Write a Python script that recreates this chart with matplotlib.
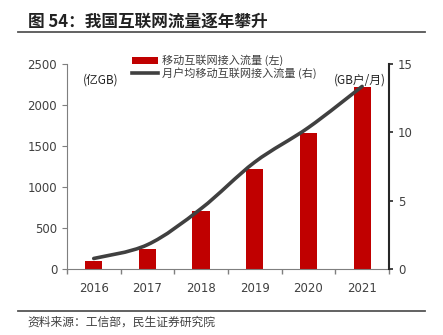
import numpy as np
import matplotlib
matplotlib.use("Agg")
import matplotlib.pyplot as plt
from matplotlib.path import Path
from matplotlib.patches import PathPatch, Patch
from matplotlib.lines import Line2D

plt.rcParams['font.family'] = ['Noto Sans CJK SC', 'DejaVu Sans']

years = ["2016", "2017", "2018", "2019", "2020", "2021"]
traffic = [93.6, 246, 711.1, 1220, 1656, 2216]          # 亿GB
dou = [0.77, 1.775, 4.42, 7.82, 10.35, 13.36]            # GB/户/月
left_ticks = [0, 500, 1000, 1500, 2000, 2500]
right_ticks = [0, 5, 10, 15]

RED = "#C00000"
GRAY = "#404040"
AX = "#7F7F7F"

fig = plt.figure(figsize=(4.43, 3.35), dpi=100)
ax = fig.add_axes([0.151, 0.197, 0.727, 0.612])
ax2 = ax.twinx()

x = np.arange(len(years))
ax.bar(x, traffic, width=0.32, color=RED, zorder=2)
ax.set_xlim(-0.5, len(years) - 0.5)
ax.set_ylim(0, 2500)
ax.set_yticks(left_ticks)
ax.set_xticks(x)
ax.set_xticklabels(years, family=['DejaVu Sans'])
ax.set_xticks(np.arange(-0.5, len(years)), minor=True)
ax.tick_params(axis='x', which='major', length=0, pad=9, labelsize=8.5, colors="#404040")
ax.tick_params(axis='x', which='minor', length=3.5, direction='out', color=AX, width=1)
ax.tick_params(axis='y', length=3.5, direction='out', labelsize=8.5, colors="#404040", color=AX)
for lbl in ax.get_yticklabels():
    lbl.set_family(['DejaVu Sans'])

ax2.set_ylim(0, 15)
ax2.set_yticks(right_ticks)
ax2.tick_params(axis='y', length=3, direction='out', labelsize=8.5, colors="#404040",
                color="#262626", width=1.2)
for lbl in ax2.get_yticklabels():
    lbl.set_family(['DejaVu Sans'])

ax.spines['top'].set_visible(False)
ax.spines['right'].set_visible(False)
ax.spines['left'].set_color(AX)
ax.spines['bottom'].set_color(AX)
ax2.spines['top'].set_visible(False)
ax2.spines['left'].set_visible(False)
ax2.spines['bottom'].set_visible(False)
ax2.spines['right'].set_color("#262626")
ax2.spines['right'].set_linewidth(1.5)

# smoothed line through the monthly-per-user values (Catmull-Rom as cubic Bezier)
pts = np.column_stack([x, dou]).astype(float)
verts = [tuple(pts[0])]
codes = [Path.MOVETO]
n = len(pts)
for i in range(n - 1):
    p0 = pts[i - 1] if i > 0 else pts[i]
    p1 = pts[i]
    p2 = pts[i + 1]
    p3 = pts[i + 2] if i + 2 < n else pts[i + 1]
    c1 = p1 + (p2 - p0) / 6.0
    c2 = p2 - (p3 - p1) / 6.0
    verts += [tuple(c1), tuple(c2), tuple(p2)]
    codes += [Path.CURVE4] * 3
ax2.add_patch(PathPatch(Path(verts, codes), facecolor='none', edgecolor=GRAY,
                        lw=2.6, capstyle='round', zorder=3))

ax.text(0.05, 0.92, "(亿GB)", transform=ax.transAxes, fontsize=8.5, color="#222222",
        ha='left', va='center')
ax2.text(0.83, 0.92, "(GB户/月)", transform=ax.transAxes, fontsize=8.5, color="#222222",
         ha='left', va='center')

handles = [Patch(facecolor=RED, edgecolor='none'),
           Line2D([], [], color=GRAY, lw=2.6)]
labels = ["移动互联网接入流量 (左)", "月户均移动互联网接入流量 (右)"]
leg = fig.legend(handles, labels, loc='upper left', bbox_to_anchor=(0.285, 0.853),
                 frameon=False, fontsize=8, handlelength=2.4, handleheight=0.6,
                 handletextpad=0.3, labelspacing=0.05, borderpad=0)
for t in leg.get_texts():
    t.set_color("#404040")

fig.text(0.063, 0.935, "图 54：我国互联网流量逐年攀升", fontsize=12, fontweight='bold',
         color="#222222", ha='left', va='center')
fig.add_artist(Line2D([0.04, 0.96], [0.905, 0.905], color="#555555", lw=1.3))
fig.add_artist(Line2D([0.04, 0.96], [0.072, 0.072], color="#555555", lw=1.3))
fig.text(0.063, 0.038, "资料来源：工信部，民生证券研究院", fontsize=8.5, color="#404040",
         ha='left', va='center')

fig.savefig("out.png", dpi=100)
